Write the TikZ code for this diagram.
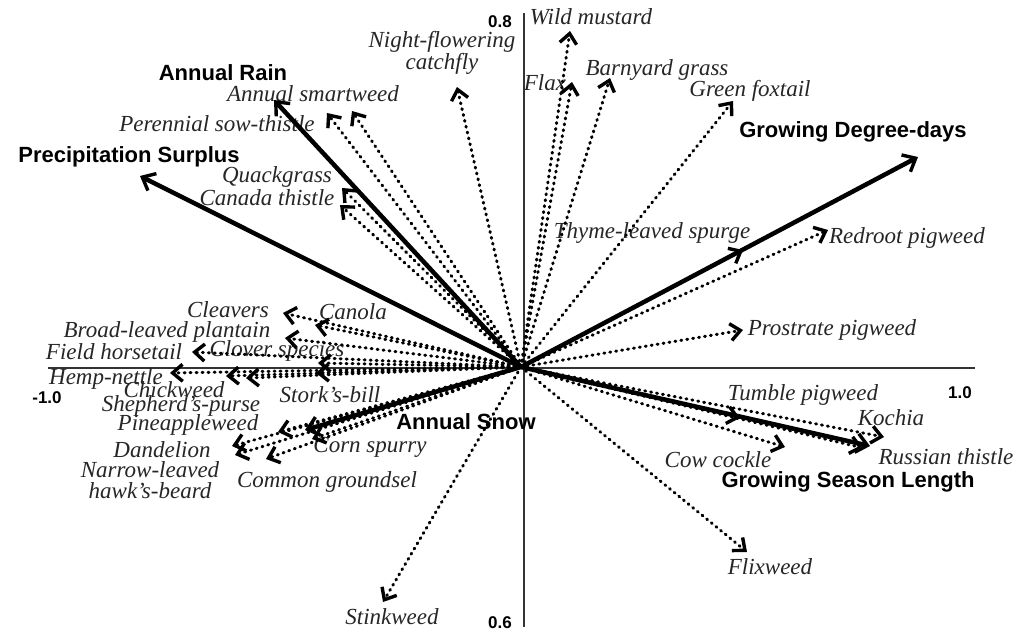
\documentclass[tikz,border=0pt]{standalone}
\usepackage{fontspec}
\setmainfont{Liberation Serif}
\newfontfamily\factorfont{Liberation Sans}
\usetikzlibrary{arrows.meta}

\begin{document}
\begin{tikzpicture}[x=1pt, y=-1pt,
  weed/.style={font=\fontsize{23}{21}\selectfont\itshape, text=black!85, inner sep=0pt, align=center},
  factor/.style={font=\factorfont\bfseries\fontsize{22}{24}\selectfont, inner sep=0pt},
  tick/.style={font=\factorfont\bfseries\fontsize{17}{19}\selectfont, inner sep=0pt},
  weedarrow/.style={line width=3pt, line cap=round, dash pattern=on 1pt off 5pt,
    -{Straight Barb[length=10pt, width=17pt, line width=3.4pt]}},
  factorarrow/.style={line width=4.5pt, -{Straight Barb[length=11pt, width=19pt, line width=3.4pt]}}]
  \useasboundingbox (0,0) rectangle (1018,632);

  % axes
  \coordinate (xl) at (48, 368);
  \coordinate (xr) at (975, 368);
  \coordinate (yt) at (524, 13);
  \coordinate (yb) at (524, 627);
  \draw [line width=1.5pt, black!80] (xl) -- (xr);
  \draw [line width=1.5pt, black!80] (yt) -- (yb);

  \node [tick] (t08) at (500, 22) {0.8};
  \node [tick] (t10m) at (47, 398) {-1.0};
  \node [tick] (t10) at (960, 393) {1.0};
  \node [tick] (t06) at (500, 623) {0.6};

  \coordinate (O) at (521, 367);

  % arrow tips
  \coordinate (mustard-tip) at (570, 31);
  \coordinate (flax-tip) at (572, 82);
  \coordinate (barnyard-tip) at (610, 78);
  \coordinate (foxtail-tip) at (733, 101);
  \coordinate (catchfly-tip) at (457, 87);
  \coordinate (smartweed-tip) at (352, 111);
  \coordinate (sowthistle-tip) at (327, 113);
  \coordinate (quackgrass-tip) at (342, 188);
  \coordinate (canthistle-tip) at (340, 205);
  \coordinate (cleavers-tip) at (283, 313);
  \coordinate (canola-tip) at (315, 325);
  \coordinate (plantain-tip) at (285, 338);
  \coordinate (horsetail-tip) at (192, 352);
  \coordinate (clover-tip) at (318, 363);
  \coordinate (hempnettle-tip) at (170, 373);
  \coordinate (chickweed-tip) at (226, 376);
  \coordinate (shepherd-tip) at (246, 378);
  \coordinate (storksbill-tip) at (316, 373);
  \coordinate (pineapple-tip) at (278, 432);
  \coordinate (dandelion-tip) at (232, 446);
  \coordinate (hawksbeard-tip) at (235, 455);
  \coordinate (cornspurry-tip) at (312, 439);
  \coordinate (groundsel-tip) at (266, 459);
  \coordinate (stinkweed-tip) at (383, 602);
  \coordinate (flixweed-tip) at (747, 552);
  \coordinate (cowcockle-tip) at (785, 447);
  \coordinate (tumble-tip) at (740, 418);
  \coordinate (russian-tip) at (863, 448);
  \coordinate (kochia-tip) at (884, 437);
  \coordinate (prostrate-tip) at (743, 330);
  \coordinate (redroot-tip) at (828, 230);
  \coordinate (spurge-tip) at (743, 250);

  \coordinate (rain-tip) at (274, 100);
  \coordinate (surplus-tip) at (140, 176);
  \coordinate (gdd-tip) at (918, 157);
  \coordinate (gsl-tip) at (870, 446);
  \coordinate (snow-tip) at (305, 430);

  % weed labels
  \node [weed] (mustard) at (591, 17) {Wild mustard};
  \node [weed] (flax) at (545, 83) {Flax};
  \node [weed] (barnyard) at (657, 70) {Barnyard grass};
  \node [weed] (foxtail) at (750, 91) {Green foxtail};
  \node [weed] (catchfly) at (442, 53) {Night-flowering\\catchfly};
  \node [weed] (smartweed) at (313, 94) {Annual smartweed};
  \node [weed] (sowthistle) at (217, 124) {Perennial sow-thistle};
  \node [weed] (quackgrass) at (277, 177) {Quackgrass};
  \node [weed] (canthistle) at (267, 198) {Canada thistle};
  \node [weed] (cleavers) at (228, 310) {Cleavers};
  \node [weed] (canola) at (353, 312) {Canola};
  \node [weed] (plantain) at (167, 332) {Broad-leaved plantain};
  \node [weed] (horsetail) at (114, 352) {Field horsetail};
  \node [weed] (clover) at (277, 351) {Clover species};
  \node [weed] (hempnettle) at (106, 379) {Hemp-nettle};
  \node [weed] (chickweed) at (174, 390) {Chickweed};
  \node [weed] (shepherd) at (181, 406) {Shepherd's-purse};
  \node [weed] (storksbill) at (330, 395) {Stork's-bill};
  \node [weed] (pineapple) at (188, 425) {Pineappleweed};
  \node [weed] (dandelion) at (162, 450) {Dandelion};
  \node [weed] (hawksbeard) at (150, 480) {Narrow-leaved\\hawk's-beard};
  \node [weed] (cornspurry) at (370, 447) {Corn spurry};
  \node [weed] (groundsel) at (327, 482) {Common groundsel};
  \node [weed] (stinkweed) at (392, 617) {Stinkweed};
  \node [weed] (flixweed) at (770, 567) {Flixweed};
  \node [weed] (cowcockle) at (718, 460) {Cow cockle};
  \node [weed] (tumble) at (803, 395) {Tumble pigweed};
  \node [weed] (russian) at (946, 457) {Russian thistle};
  \node [weed] (kochia) at (891, 418) {Kochia};
  \node [weed] (prostrate) at (832, 330) {Prostrate pigweed};
  \node [weed] (redroot) at (907, 238) {Redroot pigweed};
  \node [weed] (spurge) at (652, 233) {Thyme-leaved spurge};

  % factor labels
  \node [factor] (rain) at (223, 73) {Annual Rain};
  \node [factor] (surplus) at (129, 157) {Precipitation Surplus};
  \node [factor] (gdd) at (853, 132) {Growing Degree-days};
  \node [factor] (gsl) at (848, 482) {Growing Season Length};
  \node [factor] (snow) at (466, 422) {Annual Snow};

  \draw [weedarrow] (O) -- (mustard-tip);
  \draw [weedarrow] (O) -- (flax-tip);
  \draw [weedarrow] (O) -- (barnyard-tip);
  \draw [weedarrow] (O) -- (foxtail-tip);
  \draw [weedarrow] (O) -- (catchfly-tip);
  \draw [weedarrow] (O) -- (smartweed-tip);
  \draw [weedarrow] (O) -- (sowthistle-tip);
  \draw [weedarrow] (O) -- (quackgrass-tip);
  \draw [weedarrow] (O) -- (canthistle-tip);
  \draw [weedarrow] (O) -- (cleavers-tip);
  \draw [weedarrow] (O) -- (canola-tip);
  \draw [weedarrow] (O) -- (plantain-tip);
  \draw [weedarrow] (O) -- (horsetail-tip);
  \draw [weedarrow] (O) -- (clover-tip);
  \draw [weedarrow] (O) -- (hempnettle-tip);
  \draw [weedarrow] (O) -- (chickweed-tip);
  \draw [weedarrow] (O) -- (shepherd-tip);
  \draw [weedarrow] (O) -- (storksbill-tip);
  \draw [weedarrow] (O) -- (pineapple-tip);
  \draw [weedarrow] (O) -- (dandelion-tip);
  \draw [weedarrow] (O) -- (hawksbeard-tip);
  \draw [weedarrow] (O) -- (cornspurry-tip);
  \draw [weedarrow] (O) -- (groundsel-tip);
  \draw [weedarrow] (O) -- (stinkweed-tip);
  \draw [weedarrow] (O) -- (flixweed-tip);
  \draw [weedarrow] (O) -- (cowcockle-tip);
  \draw [weedarrow] (O) -- (tumble-tip);
  \draw [weedarrow] (O) -- (russian-tip);
  \draw [weedarrow] (O) -- (kochia-tip);
  \draw [weedarrow] (O) -- (prostrate-tip);
  \draw [weedarrow] (O) -- (redroot-tip);
  \draw [weedarrow] (O) -- (spurge-tip);

  \draw [factorarrow] (O) -- (rain-tip);
  \draw [factorarrow] (O) -- (surplus-tip);
  \draw [factorarrow] (O) -- (gdd-tip);
  \draw [factorarrow] (O) -- (gsl-tip);
  \draw [factorarrow] (O) -- (snow-tip);
\end{tikzpicture}
\end{document}
